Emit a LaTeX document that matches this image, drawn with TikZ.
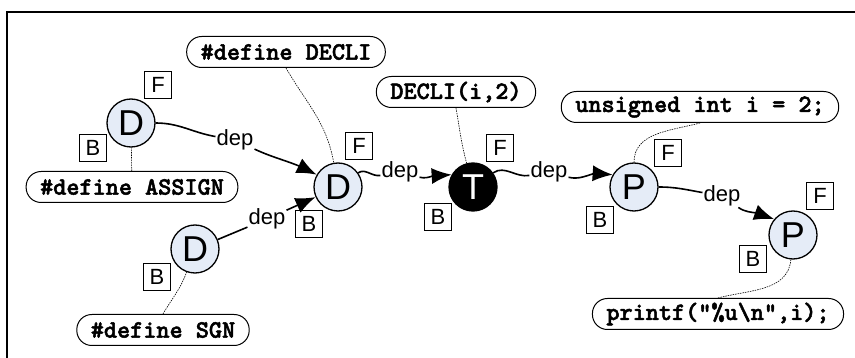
\documentclass[tikz,border=0pt]{standalone}
\usepackage{fontspec}
\setmainfont{Liberation Sans}
\newfontfamily\codefont[FakeBold=2]{lmmonolt10-bold.otf}
\usetikzlibrary{arrows.meta, bending, positioning}
\definecolor{opblue}{RGB}{229,236,247}

\begin{document}
\begin{tikzpicture}[x=1pt, y=1pt,
    op/.style={circle, draw, line width=1.3pt, fill=opblue, minimum size=48pt, inner sep=0pt, font=\fontsize{36}{36}\selectfont},
    tok/.style={op, fill=black, text=white},
    flag/.style={draw, line width=1.1pt, minimum size=27pt, inner sep=0pt, font=\fontsize{22}{22}\selectfont},
    code/.style={draw, line width=1pt, rounded corners=15pt, minimum height=31pt, inner xsep=14pt, fill=white, font=\codefont\fontsize{25}{25}\selectfont},
    lbl/.style={inner sep=1pt, font=\fontsize{22}{22}\selectfont},
    dep/.style={line width=1.6pt, -{Latex[length=20pt, width=16pt]}},
    note/.style={line width=0.6pt, dash pattern=on 1.5pt off 1pt}]
            \useasboundingbox (0,0) rectangle (855,-358);
            \draw[line width=2pt] (7,-358) -- (7,-12) -- (855,-12);

            % Nodes
            \node[op] (d1) at (131,-123) {D};
            \node[op] (d2) at (338,-187) {D};
            \node[op] (d3) at (195,-249) {D};
            \node[tok] (t) at (473,-187) {T};
            \node[op] (p1) at (634,-187) {P};
            \node[op] (p2) at (793,-235) {P};

            \node[flag] (d1f) at (158,-85) {F};
            \node[flag] (d1b) at (93,-148) {B};
            \node[flag] (d2f) at (359,-146) {F};
            \node[flag] (d2b) at (309,-224) {B};
            \node[flag] (d3b) at (157,-277) {B};
            \node[flag] (tf) at (500,-148) {F};
            \node[flag] (tb) at (438,-217) {B};
            \node[flag] (p1f) at (668,-153) {F};
            \node[flag] (p1b) at (600,-220) {B};
            \node[flag] (p2f) at (820,-196) {F};
            \node[flag] (p2b) at (753,-259) {B};

            \node[code] (assign) at (132,-187) {\#define ASSIGN};
            \node[code] (decli) at (286,-52) {\#define DECLI};
            \node[code] (sgn) at (163,-330) {\#define SGN};
            \node[code] (call) at (456,-92) {DECLI(i,2)};
            \node[code] (decl) at (700,-107) {unsigned int i = 2;};
            \node[code] (print) at (718,-314) {printf("\%u\textbackslash n",i);};

            \node[lbl] (dep1) at (235,-140) {dep};
            \node[lbl] (dep2) at (267,-219) {dep};
            \node[lbl] (dep3) at (400,-172) {dep};
            \node[lbl] (dep4) at (549,-172) {dep};
            \node[lbl] (dep5) at (722,-196) {dep};

            % Edges
            \draw[line width=1.6pt] (d1) to[out=0, in=170] (dep1);
            \draw[dep] (dep1) to[out=-25, in=150] (d2);
            \draw[line width=1.6pt] (d3) -- (dep2);
            \draw[dep] (dep2) -- (d2);
            \draw[line width=1.6pt] (d2) to[out=35, in=190] (dep3);
            \draw[dep] (dep3) to[out=-15, in=150] (t);
            \draw[line width=1.6pt] (t) to[out=35, in=190] (dep4);
            \draw[dep] (dep4) to[out=-15, in=150] (p1);
            \draw[line width=1.6pt] (p1) to[out=0, in=170] (dep5);
            \draw[dep] (dep5) to[out=-35, in=140] (p2);

            % Notes
            \draw[note] (assign) -- (d1);
            \draw[note] (decli.south) to[out=-60, in=100] (d2);
            \draw[note] (sgn.north) to[out=60, in=-110] (d3);
            \draw[note] (call.south) to[out=-80, in=105] (t);
            \draw[note] (decl.south) to[out=195, in=90] (p1);
            \draw[note] (print.north) to[out=15, in=-95] (p2);
        \end{tikzpicture}
\end{document}
